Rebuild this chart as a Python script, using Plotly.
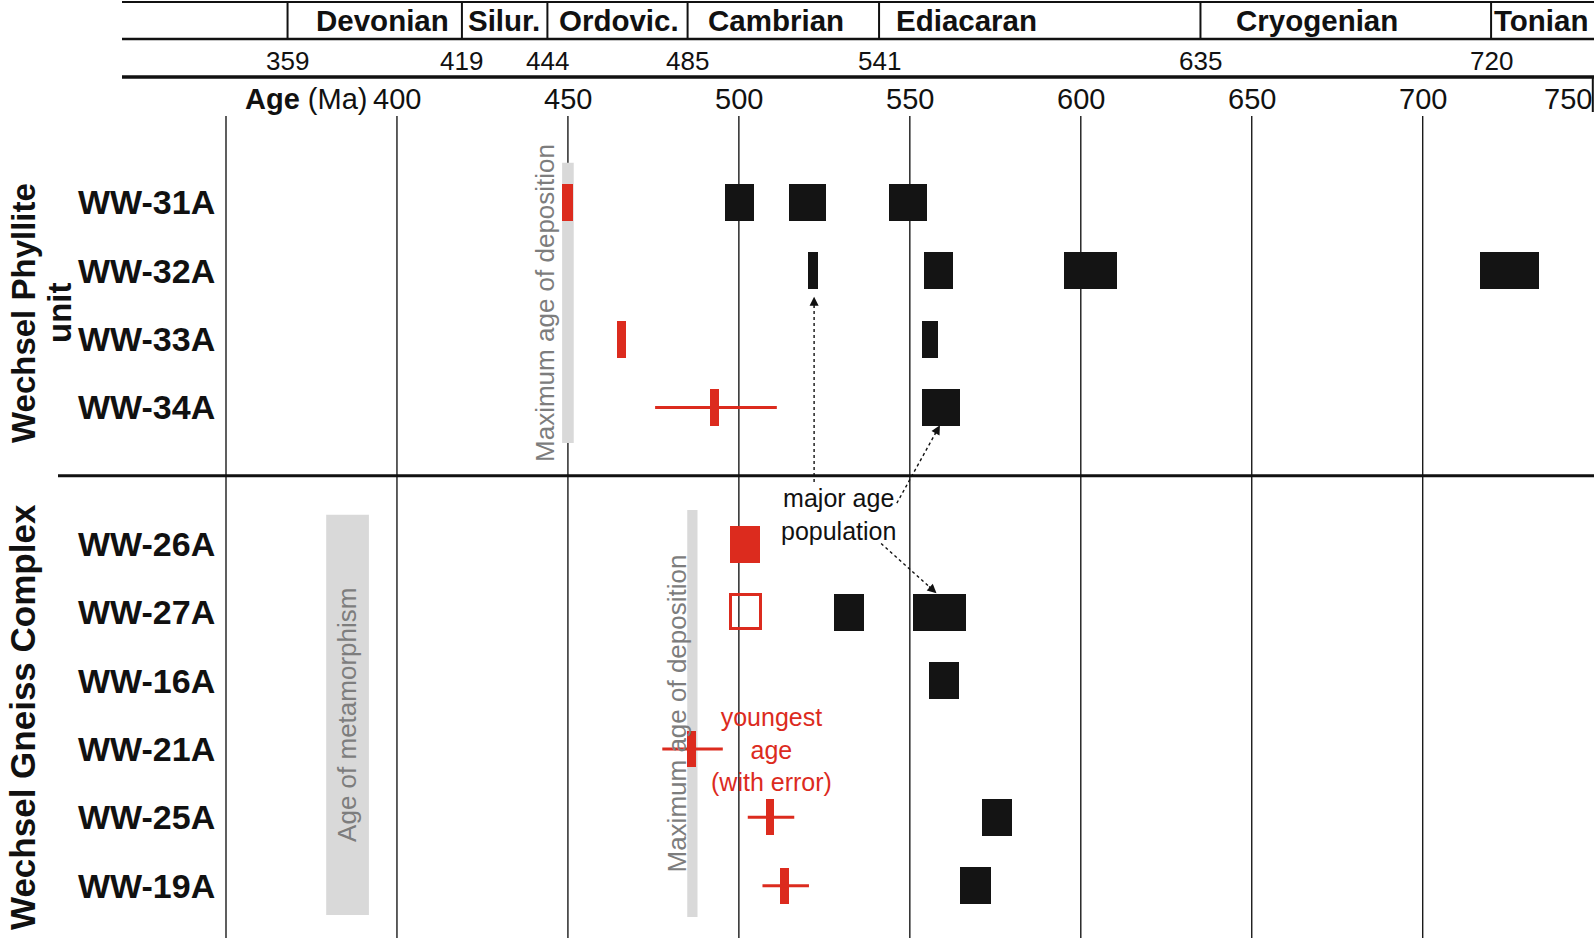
import plotly.graph_objects as go

# ---------------- data ----------------
samples = ["WW-31A", "WW-32A", "WW-33A", "WW-34A",
           "WW-26A", "WW-27A", "WW-16A", "WW-21A", "WW-25A", "WW-19A"]
sample_rows = [0, 1, 2, 3, 5, 6, 7, 8, 9, 10]
group_lines = ["Wechsel Phyllite", "unit", "Wechsel Gneiss Complex"]

# major age populations (black boxes), Ma
pop_sample = ["WW-31A", "WW-31A", "WW-31A", "WW-32A", "WW-32A", "WW-32A", "WW-32A",
              "WW-33A", "WW-34A", "WW-27A", "WW-27A", "WW-16A", "WW-25A", "WW-19A"]
pop_min = [495.8, 514.7, 544.0, 520.3, 554.1, 595.0, 716.8,
           553.5, 553.6, 527.8, 550.8, 555.6, 571.0, 564.8]
pop_max = [504.3, 525.5, 555.0, 523.0, 562.6, 610.6, 734.1,
           558.3, 564.6, 536.6, 566.3, 564.5, 579.8, 573.6]

# youngest populations (red filled boxes)
young_pop_sample = ["WW-31A", "WW-33A", "WW-26A"]
young_pop_min = [448.3, 464.3, 497.5]
young_pop_max = [451.4, 467.0, 506.2]

# youngest population (red open box)
open_pop_sample = ["WW-27A"]
open_pop_min = [497.6]
open_pop_max = [506.6]

# youngest single ages with error
youngest_sample = ["WW-34A", "WW-21A", "WW-25A", "WW-19A"]
youngest_age = [492.9, 486.2, 509.1, 513.4]
youngest_err_lo = [475.5, 477.6, 502.6, 506.9]
youngest_err_hi = [511.1, 495.3, 516.2, 520.5]

# grey bands
band_labels = ["Maximum age of deposition", "Maximum age of deposition", "Age of metamorphism"]
band_age_min = [448.3, 484.9, 379.3]
band_age_max = [451.7, 487.9, 391.8]
band_row_from = [-0.58, 4.50, 4.57]
band_row_to = [3.52, 10.46, 10.43]
band_label_age = [443.3, 481.9, 385.4]

# chronostratigraphy header
period_names = ["Devonian", "Silur.", "Ordovic.", "Cambrian", "Ediacaran", "Cryogenian", "Tonian"]
period_name_age = [395.7, 431.4, 465.0, 510.8, 566.6, 669.1, 734.8]
period_bounds = [368, 419, 444, 485, 541, 635, 720]
period_bound_labels = ["359", "419", "444", "485", "541", "635", "720"]

grid_ages = [350, 400, 450, 500, 550, 600, 650, 700]
tick_ages = [400, 450, 500, 550, 600, 650, 700, 750]
tick_labels = ["400", "450", "500", "550", "600", "650", "700", "750"]

# ---------------- layout constants ----------------
W, H = 1594, 938
X0, X1 = 283.9, 750.1
Y_TOP, Y_BOT = -2.964, 10.766
RED = "#dc2b1e"
BLACK = "#141414"
GREY_BAND = "#d9d9d9"
GREY_TEXT = "#7d7d7d"
FONT = "Liberation Sans, Arial, Helvetica, sans-serif"

row_of = dict(zip(samples, sample_rows))
def py(px):  # pixel row -> paper y
    return 1 - px / H
def px_x(px):
    return px / W

fig = go.Figure()

# black boxes
fig.add_trace(go.Bar(
    orientation="h", y=[row_of[s] for s in pop_sample],
    x=[b - a for a, b in zip(pop_min, pop_max)], base=pop_min,
    width=0.54, marker=dict(color=BLACK, line=dict(width=0)), hoverinfo="skip"))
# red filled boxes
fig.add_trace(go.Bar(
    orientation="h", y=[row_of[s] for s in young_pop_sample],
    x=[b - a for a, b in zip(young_pop_min, young_pop_max)], base=young_pop_min,
    width=0.54, marker=dict(color=RED, line=dict(width=0)), hoverinfo="skip"))
# red open box
fig.add_trace(go.Bar(
    orientation="h", y=[row_of[s] for s in open_pop_sample],
    x=[b - a for a, b in zip(open_pop_min, open_pop_max)], base=open_pop_min,
    width=0.50, marker=dict(color="rgba(0,0,0,0)", line=dict(width=3, color=RED)), hoverinfo="skip"))
# youngest age: vertical tick
tick_half = 1.3
fig.add_trace(go.Bar(
    orientation="h", y=[row_of[s] for s in youngest_sample],
    x=[2 * tick_half] * len(youngest_age), base=[a - tick_half for a in youngest_age],
    width=0.53, marker=dict(color=RED, line=dict(width=0)), hoverinfo="skip"))
# youngest age: error line
ex, ey = [], []
for s, lo, hi in zip(youngest_sample, youngest_err_lo, youngest_err_hi):
    ex += [lo, hi, None]
    ey += [row_of[s], row_of[s], None]
fig.add_trace(go.Scatter(x=ex, y=ey, mode="lines", line=dict(color=RED, width=3), hoverinfo="skip"))

shapes = []
# grey bands (below gridlines)
for lo, hi, r0, r1 in zip(band_age_min, band_age_max, band_row_from, band_row_to):
    shapes.append(dict(type="rect", xref="x", yref="y", x0=lo, x1=hi, y0=r0, y1=r1,
                       fillcolor=GREY_BAND, line=dict(width=0), layer="below"))
# gridlines
for g in grid_ages:
    shapes.append(dict(type="line", xref="x", yref="paper", x0=g, x1=g, y0=0, y1=py(116),
                       line=dict(color="#1a1a1a", width=1.4), layer="below"))
# separator between units (gap row 4)
shapes.append(dict(type="line", xref="paper", yref="y", x0=px_x(58), x1=1, y0=4, y1=4,
                   line=dict(color="#111", width=3)))
# header table lines
for ypx, lw in [(2, 2.2), (39, 2.5), (77, 3.5)]:
    shapes.append(dict(type="line", xref="paper", yref="paper", x0=px_x(122), x1=1,
                       y0=py(ypx), y1=py(ypx), line=dict(color="#111", width=lw)))
for b in period_bounds:
    shapes.append(dict(type="line", xref="x", yref="paper", x0=b, x1=b, y0=py(2), y1=py(39),
                       line=dict(color="#111", width=2)))
shapes.append(dict(type="line", xref="x", yref="paper", x0=X1 - 0.35, x1=X1 - 0.35,
                   y0=py(77), y1=py(112), line=dict(color="#111", width=2)))

annotations = []
# period names and boundary labels
for n, a in zip(period_names, period_name_age):
    annotations.append(dict(x=a, xref="x", y=py(21), yref="paper", text="<b>%s</b>" % n,
                            showarrow=False, xanchor="center", yanchor="middle",
                            font=dict(family=FONT, size=29.5, color="#111")))
for b, lab in zip(period_bounds, period_bound_labels):
    annotations.append(dict(x=b, xref="x", y=py(61), yref="paper", text=lab,
                            showarrow=False, xanchor="center", yanchor="middle",
                            font=dict(family=FONT, size=26, color="#111")))
# axis tick labels
for t, lab in zip(tick_ages, tick_labels):
    annotations.append(dict(x=t, xref="x", y=py(99), yref="paper", text=lab,
                            showarrow=False, xanchor="right" if t == tick_ages[-1] else "center",
                            yanchor="middle", font=dict(family=FONT, size=29, color="#111")))
annotations.append(dict(x=px_x(369), xref="paper", y=py(99), yref="paper",
                        text="<b>Age</b> (Ma)", showarrow=False, xanchor="right", yanchor="middle",
                        font=dict(family=FONT, size=29, color="#111")))
# sample labels
for s, r in zip(samples, sample_rows):
    annotations.append(dict(x=px_x(217), xref="paper", y=r, yref="y", text="<b>%s</b>" % s,
                            showarrow=False, xanchor="right", yanchor="middle",
                            font=dict(family=FONT, size=34, color="#111")))
# group labels (rotated)
group_label_x = [23, 59, 22]
group_label_y = [313, 313, 717]
group_label_size = [33, 33, 35]
for t, gx, gy, gs in zip(group_lines, group_label_x, group_label_y, group_label_size):
    annotations.append(dict(x=px_x(gx), xref="paper", y=py(gy), yref="paper", text="<b>%s</b>" % t,
                            textangle=-90, showarrow=False, xanchor="center", yanchor="middle",
                            font=dict(family=FONT, size=gs, color="#111")))
# band labels
for lab, a, r0, r1 in zip(band_labels, band_label_age, band_row_from, band_row_to):
    annotations.append(dict(x=a, xref="x", y=(r0 + r1) / 2, yref="y", text=lab, textangle=-90,
                            showarrow=False, xanchor="center", yanchor="middle",
                            font=dict(family=FONT, size=26, color=GREY_TEXT)))
# explanatory texts
annotations.append(dict(x=529.1, xref="x", y=4.56, yref="y", text="major age<br>population",
                        showarrow=False, xanchor="center", yanchor="middle",
                        font=dict(family=FONT, size=25, color="#111")))
annotations.append(dict(x=509.4, xref="x", y=8.0, yref="y", text="youngest<br>age<br>(with error)",
                        showarrow=False, xanchor="center", yanchor="middle",
                        font=dict(family=FONT, size=25, color=RED)))

# dotted arrows (start -> tip), in data coordinates
arrow_start_age = [522.0, 546.2, 541.6]
arrow_start_row = [4.09, 4.40, 4.99]
arrow_tip_age = [522.0, 558.8, 557.8]
arrow_tip_row = [1.38, 3.26, 5.72]
PX_PER_MA = W / (X1 - X0)
PX_PER_ROW = H / (Y_BOT - Y_TOP)
for sa, sr, ta, tr in zip(arrow_start_age, arrow_start_row, arrow_tip_age, arrow_tip_row):
    dxp = (sa - ta) * PX_PER_MA
    dyp = (sr - tr) * PX_PER_ROW
    L = (dxp ** 2 + dyp ** 2) ** 0.5
    f = 10.0 / L
    shapes.append(dict(type="line", xref="x", yref="y", x0=sa, y0=sr,
                       x1=ta + (sa - ta) * f, y1=tr + (sr - tr) * f,
                       line=dict(color="#111", width=1.4, dash="dot")))
    annotations.append(dict(x=ta, y=tr, xref="x", yref="y", ax=ta + (sa - ta) * f * 1.2,
                            ay=tr + (sr - tr) * f * 1.2, axref="x", ayref="y", text="",
                            showarrow=True, arrowhead=2, arrowsize=1.3, arrowwidth=1.4,
                            arrowcolor="#111"))

fig.update_layout(
    width=W, height=H, margin=dict(l=0, r=0, t=0, b=0),
    paper_bgcolor="white", plot_bgcolor="white", showlegend=False,
    barmode="overlay", bargap=0,
    xaxis=dict(range=[X0, X1], visible=False, fixedrange=True),
    yaxis=dict(range=[Y_BOT, Y_TOP], visible=False, fixedrange=True),
    shapes=shapes, annotations=annotations,
)
fig.write_html("out.html", config={"displayModeBar": False},
               post_script="document.body.style.margin='0';document.body.style.overflow='hidden';")
